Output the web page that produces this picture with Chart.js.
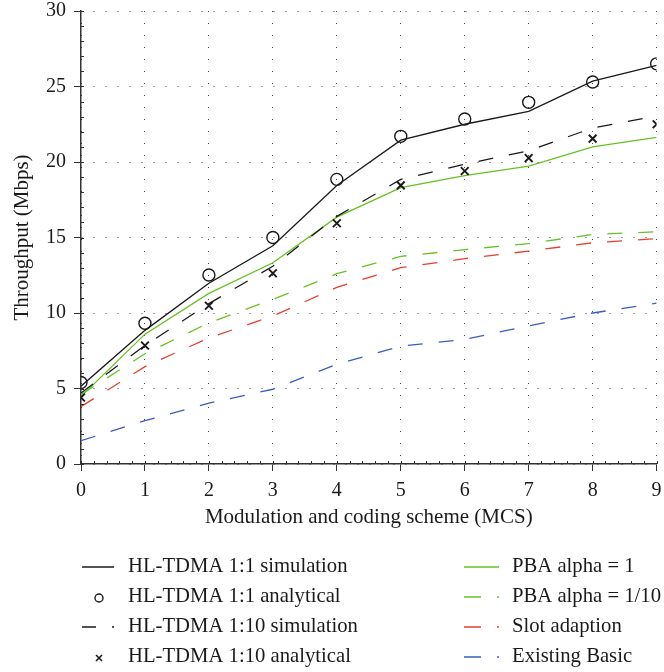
<!DOCTYPE html>
<html>
<head>
<meta charset="utf-8">
<script src="https://cdn.jsdelivr.net/npm/chart.js@4"></script>
<style>
html,body{margin:0;padding:0;background:#fff;}
#wrap{width:664px;height:672px;position:relative;}
</style>
</head>
<body>
<div id="wrap"><canvas id="c" width="664" height="672"></canvas></div>
<script>
// ---- data ----
const mcs = [0, 1, 2, 3, 4, 5, 6, 7, 8, 9];
const hl11Sim = [5.15, 8.85, 11.97, 14.45, 18.45, 21.45, 22.5, 23.35, 25.35, 26.4];
const hl11Ana = [5.4, 9.32, 12.52, 15.0, 18.85, 21.7, 22.85, 23.95, 25.3, 26.5];
const hl110Sim = [4.7, 7.85, 10.62, 13.1, 16.4, 18.85, 19.85, 20.75, 22.25, 23.05];
const hl110Ana = [4.4, 7.85, 10.48, 12.63, 15.94, 18.45, 19.4, 20.26, 21.55, 22.5];
const pbaAlpha1 = [4.46, 8.6, 11.3, 13.33, 16.35, 18.3, 19.1, 19.73, 21.0, 21.63];
const pbaAlpha10 = [4.6, 7.3, 9.35, 10.9, 12.6, 13.75, 14.2, 14.6, 15.2, 15.38];
const slotAdaption = [3.8, 6.45, 8.35, 9.8, 11.7, 13.0, 13.6, 14.1, 14.65, 14.92];
const existingBasic = [1.54, 2.87, 4.03, 4.95, 6.6, 7.8, 8.25, 9.15, 10.0, 10.65];
const yTicks = [0, 5, 10, 15, 20, 25, 30];
const xTitle = 'Modulation and coding scheme (MCS)';
const yTitle = 'Throughput (Mbps)';

const FONT = '"Liberation Serif", "Times New Roman", serif';
const BLACK = '#1a1a1a', GREEN = '#66c224', RED = '#e8402e', BLUE = '#3a5cc0';
const DASH = [15, 16];

const pts = arr => mcs.map((m, i) => ({x: m, y: arr[i]}));

const datasets = [
  {label: 'HL-TDMA 1:1 simulation', data: pts(hl11Sim), borderColor: BLACK, borderWidth: 1.3, pointRadius: 0, showLine: true, legendCol: 0, kind: 'line'},
  {label: 'HL-TDMA 1:1 analytical', data: pts(hl11Ana), borderColor: BLACK, backgroundColor: 'rgba(0,0,0,0)', borderWidth: 1.3, pointRadius: 6, pointStyle: 'circle', pointBorderWidth: 1.4, showLine: false, legendCol: 0, kind: 'circle'},
  {label: 'HL-TDMA 1:10 simulation', data: pts(hl110Sim), borderColor: BLACK, borderWidth: 1.3, borderDash: DASH, pointRadius: 0, showLine: true, legendCol: 0, kind: 'line'},
  {label: 'HL-TDMA 1:10 analytical', data: pts(hl110Ana), borderColor: BLACK, backgroundColor: BLACK, pointRadius: 5.5, pointStyle: 'crossRot', pointBorderWidth: 1.9, showLine: false, legendCol: 0, kind: 'cross'},
  {label: 'PBA alpha = 1', data: pts(pbaAlpha1), borderColor: GREEN, borderWidth: 1.3, pointRadius: 0, showLine: true, legendCol: 1, kind: 'line'},
  {label: 'PBA alpha = 1/10', data: pts(pbaAlpha10), borderColor: GREEN, borderWidth: 1.3, borderDash: DASH, pointRadius: 0, showLine: true, legendCol: 1, kind: 'line'},
  {label: 'Slot adaption', data: pts(slotAdaption), borderColor: RED, borderWidth: 1.3, borderDash: DASH, pointRadius: 0, showLine: true, legendCol: 1, kind: 'line'},
  {label: 'Existing Basic', data: pts(existingBasic), borderColor: BLUE, borderWidth: 1.3, borderDash: DASH, pointRadius: 0, showLine: true, legendCol: 1, kind: 'line'}
];

// minor ticks on axes
const minorTicks = {
  id: 'minorTicks',
  afterDatasetsDraw(chart) {
    const {ctx, scales: {x, y}} = chart;
    ctx.save();
    ctx.strokeStyle = '#333';
    ctx.lineWidth = 1;
    ctx.beginPath();
    for (let v = 0; v <= 9.0001; v += 0.2) {
      const px = Math.round(x.getPixelForValue(v)) + 0.5;
      ctx.moveTo(px, y.bottom); ctx.lineTo(px, y.bottom - 3);
    }
    for (let v = 0; v <= 30.0001; v += 1) {
      const py = Math.round(y.getPixelForValue(v)) + 0.5;
      ctx.moveTo(x.left, py); ctx.lineTo(x.left + 3, py);
    }
    ctx.stroke();
    ctx.restore();
  }
};

// two-column legend, column-major
const colLegend = {
  id: 'colLegend',
  afterDraw(chart) {
    const {ctx} = chart;
    const cols = [{x: 82, w: 32, tx: 128, dash: [14, 16]}, {x: 464, w: 35, tx: 512, dash: [17, 16]}];
    const rowY = [567, 597, 627, 657];
    const counters = [0, 0];
    ctx.save();
    ctx.font = '20.7px ' + FONT;
    ctx.textBaseline = 'middle';
    ctx.fillStyle = '#1a1a1a';
    chart.data.datasets.forEach(ds => {
      const c = cols[ds.legendCol];
      const yy = rowY[counters[ds.legendCol]++];
      ctx.strokeStyle = ds.borderColor;
      if (ds.kind === 'line') {
        ctx.lineWidth = 1.5;
        ctx.setLineDash(ds.borderDash ? c.dash : []);
        ctx.beginPath(); ctx.moveTo(c.x, yy); ctx.lineTo(c.x + c.w, yy); ctx.stroke();
        ctx.setLineDash([]);
      } else if (ds.kind === 'circle') {
        ctx.lineWidth = 1.4;
        ctx.beginPath(); ctx.arc(c.x + c.w / 2 + 1, yy + 1, 4, 0, Math.PI * 2); ctx.stroke();
      } else {
        ctx.lineWidth = 1.6;
        const cx = c.x + c.w / 2 + 1, cy = yy + 1, r = 3;
        ctx.beginPath();
        ctx.moveTo(cx - r, cy - r); ctx.lineTo(cx + r, cy + r);
        ctx.moveTo(cx + r, cy - r); ctx.lineTo(cx - r, cy + r);
        ctx.stroke();
      }
      ctx.fillText(ds.label, c.tx, yy);
    });
    ctx.restore();
  }
};

new Chart(document.getElementById('c'), {
  type: 'scatter',
  data: {datasets},
  options: {
    responsive: false,
    animation: false,
    layout: {padding: {left: 0, right: 6, top: 11, bottom: 142}},
    plugins: {legend: {display: false}, tooltip: {enabled: false}},
    elements: {line: {tension: 0}},
    scales: {
      x: {
        type: 'linear', min: 0, max: 9,
        afterBuildTicks: s => { s.ticks = mcs.map(v => ({value: v})); },
        afterFit: s => { s.height = 66; s.paddingLeft = 0; s.paddingRight = 0; },
        ticks: {font: {family: FONT, size: 20}, color: '#1a1a1a', padding: 8, maxRotation: 0},
        grid: {color: '#444', lineWidth: 1, tickLength: 7, tickColor: '#333'},
        border: {display: true, color: '#333', width: 1.5, dash: [1, 11]},
        title: {display: true, text: xTitle, font: {family: FONT, size: 21}, color: '#1a1a1a', padding: {top: 0, bottom: 0}}
      },
      y: {
        type: 'linear', min: 0, max: 30,
        afterBuildTicks: s => { s.ticks = yTicks.map(v => ({value: v})); },
        afterFit: s => { s.width = 81; s.paddingTop = 0; s.paddingBottom = 0; },
        ticks: {font: {family: FONT, size: 20}, color: '#1a1a1a', padding: 8},
        grid: {color: '#444', lineWidth: 1, tickLength: 7, tickColor: '#333'},
        border: {display: true, color: '#333', width: 1.5, dash: [1, 11]},
        title: {display: true, text: yTitle, font: {family: FONT, size: 21}, color: '#1a1a1a', padding: {top: 10, bottom: 0}}
      }
    }
  },
  plugins: [minorTicks, colLegend]
});
</script>
</body>
</html>
